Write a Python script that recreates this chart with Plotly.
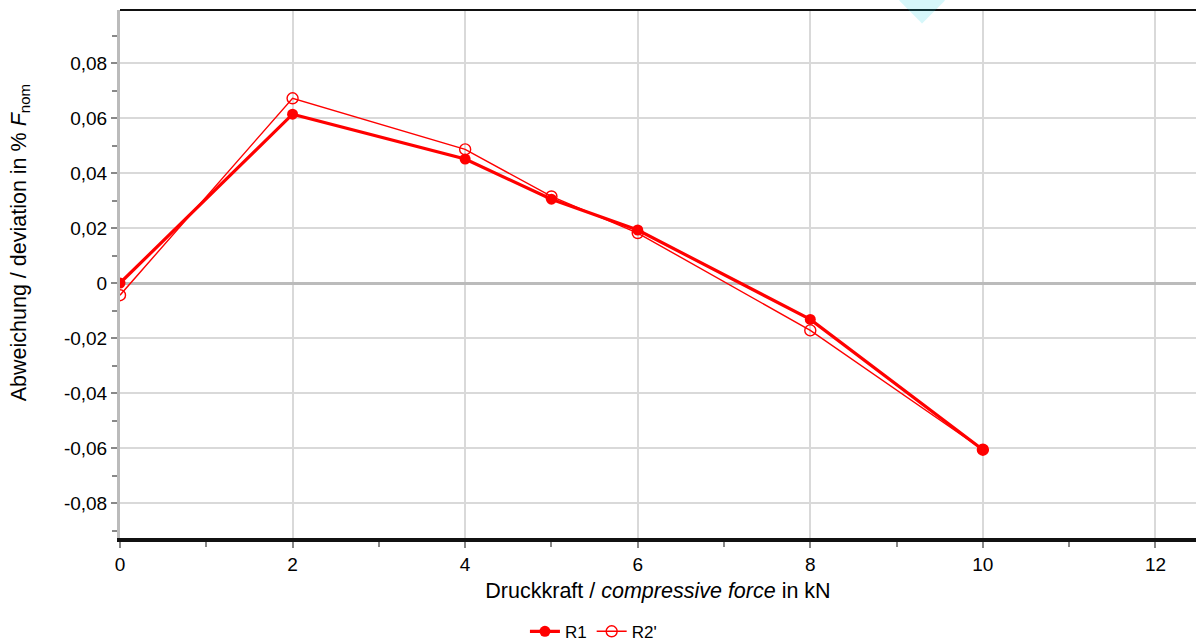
import plotly.graph_objects as go

force = [0, 2, 4, 5, 6, 8, 10]
r1 = [0.0, 0.0614, 0.0451, 0.0305, 0.0193, -0.0132, -0.0606]
r2 = [-0.0044, 0.0672, 0.0486, 0.0315, 0.0182, -0.0172, -0.0606]
diamond_x = [9.29]

ytick_vals = [-0.08, -0.06, -0.04, -0.02, 0, 0.02, 0.04, 0.06, 0.08]
ytick_text = ["-0,08", "-0,06", "-0,04", "-0,02", "0", "0,02", "0,04", "0,06", "0,08"]
xtick_vals = [0, 2, 4, 6, 8, 10, 12]

fig = go.Figure()
fig.add_trace(go.Scatter(x=force, y=r1, name="R1", mode="lines+markers",
                         line=dict(color="#ff0000", width=3.2),
                         marker=dict(symbol="circle", size=11, color="#ff0000")))
fig.add_trace(go.Scatter(x=force, y=r2, name="R2'", mode="lines+markers",
                         line=dict(color="#ff0000", width=1.4),
                         marker=dict(symbol="circle-open", size=11, color="#ff0000", line=dict(width=1.4))))

fig.update_layout(
    width=1196, height=642,
    margin=dict(l=120, r=0, t=10, b=104),
    plot_bgcolor="white", paper_bgcolor="white",
    font=dict(family="Liberation Sans, Arial, sans-serif", size=19, color="#000"),
    showlegend=True,
    legend=dict(orientation="h", x=0.44, xanchor="center", yref="container", y=0.016, yanchor="middle",
                font=dict(size=17), itemwidth=30),
    xaxis=dict(range=[0, 12.47], tickvals=xtick_vals, showgrid=True, gridcolor="#d9d9d9", gridwidth=1.5,
               zeroline=False, showline=True, linecolor="#111", linewidth=4,
               ticks="outside", ticklen=6, tickcolor="#888", tickwidth=1.5,
               minor=dict(dtick=1, tick0=0, ticks="outside", ticklen=5, tickcolor="#888", showgrid=False),
               title=dict(text="Druckkraft / <i>compressive force</i> in kN", standoff=10, font=dict(size=21.5))),
    yaxis=dict(range=[-0.0927, 0.0993], tickvals=ytick_vals, ticktext=ytick_text,
               showgrid=True, gridcolor="#d9d9d9", gridwidth=1.5,
               zeroline=True, zerolinecolor="#bbbbbb", zerolinewidth=3,
               showline=True, linecolor="#bbbbbb", linewidth=3,
               ticks="outside", ticklen=6, tickcolor="#888", tickwidth=1.5,
               minor=dict(dtick=0.01, tick0=0, ticks="outside", ticklen=5, tickcolor="#888", showgrid=False)),
    shapes=[dict(type="line", xref="paper", yref="paper", x0=0, x1=1, y0=1, y1=1,
                 line=dict(color="#111", width=2))],
    annotations=[
        dict(x=-0.093, xref="paper", y=0.56, yref="paper", textangle=-90, showarrow=False,
             xanchor="center", yanchor="middle",
             text="Abweichung / deviation in % <i>F</i><sub>nom</sub>", font=dict(size=21.5)),
        dict(x=diamond_x[0], xref="x", y=1.029, yref="paper", text="◆", showarrow=False,
             xanchor="center", yanchor="middle",
             font=dict(family="DejaVu Sans", size=60, color="rgba(14,208,226,0.17)")),
    ],
)

fig.write_html("out.html", config={"displayModeBar": False},
               post_script="document.body.style.margin='0';document.body.style.overflow='hidden';")
